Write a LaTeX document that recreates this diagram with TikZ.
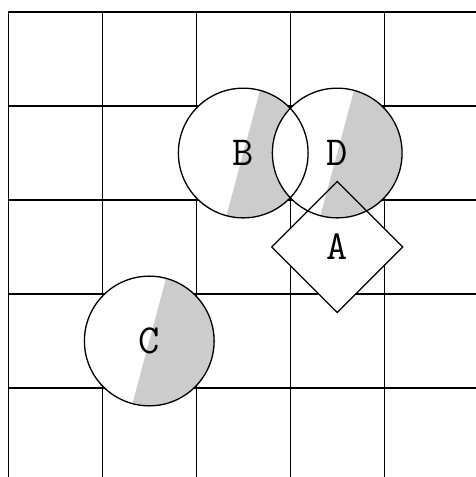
\documentclass[tikz,border=0pt]{standalone}
\usepackage{tikz}
\usetikzlibrary{shapes.geometric}
\definecolor{cshade}{HTML}{CCCCCC}

\begin{document}
\begin{tikzpicture}[
    disc/.style={circle, minimum size=1.38cm, inner sep=0pt, fill=white, font=\ttfamily\fontsize{12.5}{15}\selectfont,
        path picture={\fill[cshade] (path picture bounding box.center) -- ++(75:1cm)
            arc[start angle=75, end angle=-105, radius=1cm] -- cycle;}},
    rhomb/.style={diamond, minimum size=1.38cm, inner sep=0pt, fill=white, font=\ttfamily\fontsize{12.5}{15}\selectfont},
]
\useasboundingbox (-0.088, 0.128) rectangle (4.976, -4.947);

% --- Grid (runs off the right and bottom edges) ---
\begin{scope}
\clip (-0.088, 0.128) rectangle (4.976, -4.947);
\draw (0, -6) grid (6, 0);
\end{scope}

% --- Filled shapes ---
\node[disc] (B) at (2.5, -1.5) {B};
\node[rhomb] (A) at (3.5, -2.5) {};
\node[disc] (D) at (3.5, -1.5) {D};
\node[disc] (C) at (1.5, -3.5) {C};
\node[font=\ttfamily\fontsize{12.5}{15}\selectfont] (labA) at (A) {A};

% --- Outlines on top of all fills ---
\foreach \n in {B, D, C} {
    \draw (\n.center) circle[radius=0.69];
}
\draw (A.north) -- (A.east) -- (A.south) -- (A.west) -- cycle;

\end{tikzpicture}
\end{document}
